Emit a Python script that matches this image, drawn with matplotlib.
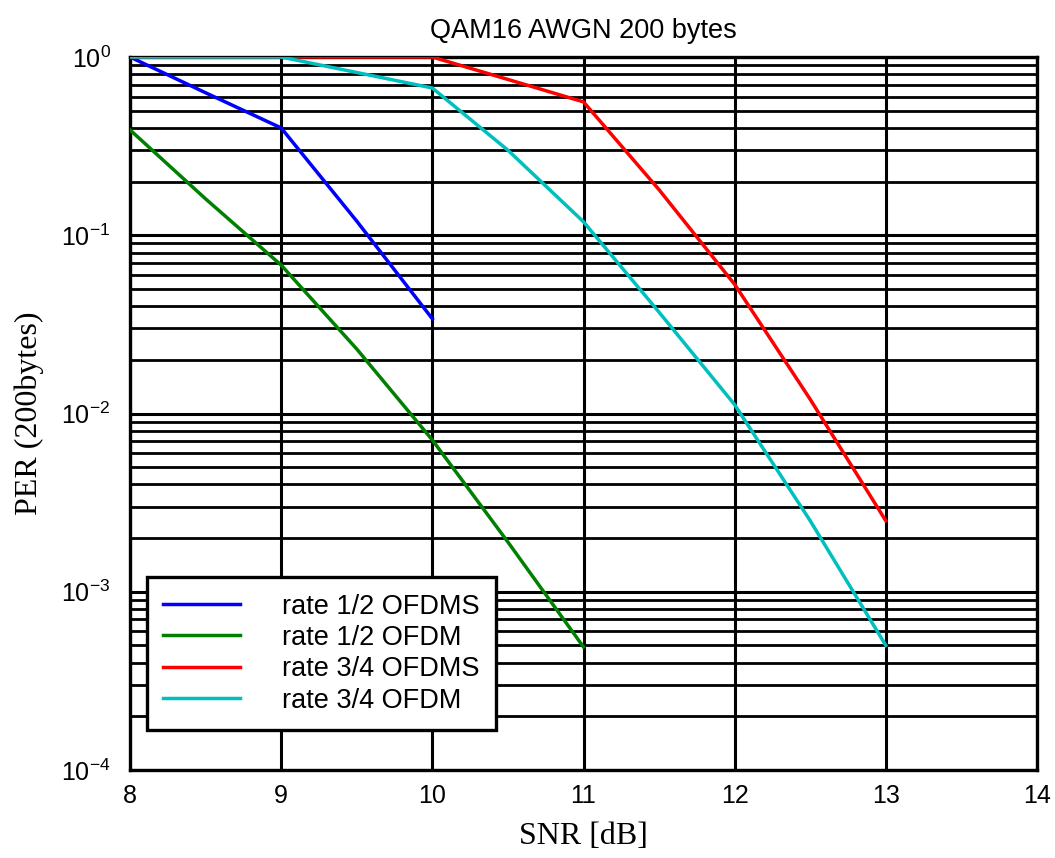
import numpy as np
import matplotlib.pyplot as plt
from matplotlib.ticker import LogLocator, NullFormatter

# data
snr_r12s = [8, 8.5, 9, 9.5, 10]
per_r12s = [1.0, 0.63, 0.40, 0.12, 0.034]

snr_r12 = [8, 8.5, 9, 9.5, 10, 10.5, 11]
per_r12 = [0.39, 0.16, 0.068, 0.023, 0.0071, 0.0019, 0.00049]

snr_r34s = [8, 9, 10, 11, 11.5, 12, 12.5, 13]
per_r34s = [1.0, 1.0, 1.0, 0.56, 0.18, 0.053, 0.012, 0.0025]

snr_r34 = [8, 9, 10, 10.5, 11, 11.5, 12, 12.5, 13]
per_r34 = [1.0, 1.0, 0.67, 0.30, 0.119, 0.037, 0.0112, 0.0025, 0.0005]

labels = ["rate 1/2 OFDMS", "rate 1/2 OFDM", "rate 3/4 OFDMS", "rate 3/4 OFDM"]
colors = ["#0000ff", "#008000", "#ff0000", "#00bfbf"]

fig = plt.figure(figsize=(10.55, 8.58), dpi=100)
ax = fig.add_axes([130/1055, 1 - 770/858, (1037-130)/1055, (770-57)/858])

series = [(snr_r12s, per_r12s), (snr_r12, per_r12), (snr_r34s, per_r34s), (snr_r34, per_r34)]
for (x, y), lab, c in zip(series, labels, colors):
    ax.plot(x, y, color=c, lw=2.5, label=lab, zorder=3)

ax.set_yscale("log")
ax.set_xlim(8, 14)
ax.set_ylim(1e-4, 1)
ax.set_xticks(range(8, 15))
ax.yaxis.set_major_locator(LogLocator(base=10, numticks=10))
ax.yaxis.set_minor_locator(LogLocator(base=10, subs=np.arange(2, 10), numticks=20))
ax.yaxis.set_minor_formatter(NullFormatter())

ax.grid(True, which="major", axis="both", color="black", lw=2.2)
ax.grid(True, which="minor", axis="y", color="black", lw=2.0)
ax.set_axisbelow(True)

for s in ax.spines.values():
    s.set_linewidth(2.4)
ax.tick_params(direction="in", which="both", labelsize=18, length=0)
ax.tick_params(axis="x", pad=10)
ax.tick_params(axis="y", pad=14)
for t in ax.get_xticklabels() + ax.get_yticklabels():
    t.set_family("Liberation Sans")

ax.set_title("QAM16 AWGN 200 bytes", fontsize=19.5, family="Liberation Sans", pad=14)
ax.set_xlabel("SNR [dB]", fontsize=23, family="Liberation Serif", labelpad=10)
ax.set_ylabel("PER (200bytes)", fontsize=23, family="Liberation Serif", labelpad=12)

leg = ax.legend(loc="lower left", bbox_to_anchor=(17/907, 40/713), prop={"family": "Liberation Sans", "size": 19.5},
                frameon=True, fancybox=False, edgecolor="black", framealpha=1,
                handlelength=2.85, handletextpad=1.55, borderpad=0.6, labelspacing=0.2, borderaxespad=0)
leg.get_frame().set_linewidth(2.4)
leg.set_zorder(5)

fig.savefig("out.png", dpi=100)
